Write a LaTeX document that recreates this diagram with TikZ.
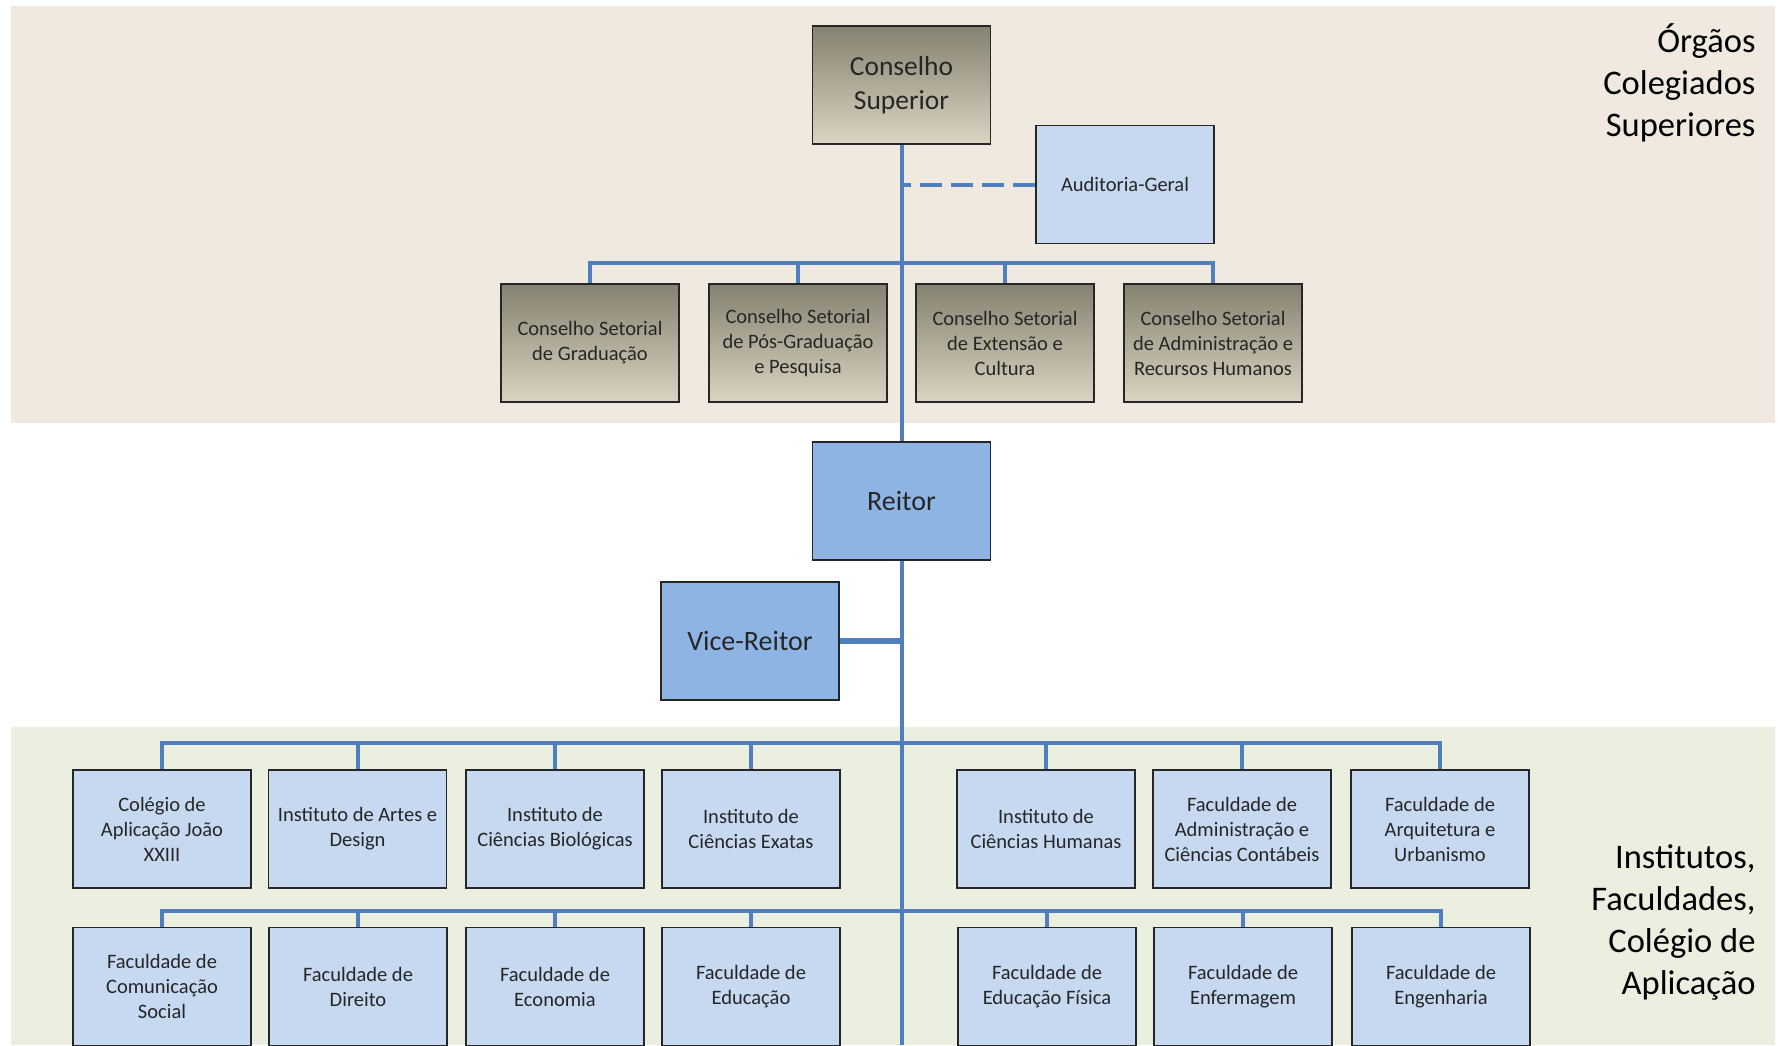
\documentclass[tikz,border=0pt]{standalone}
\usepackage{fontspec}
\setmainfont{Carlito}
\definecolor{bandtop}{HTML}{EFE9E0}
\definecolor{bandbot}{HTML}{EBEFDF}
\definecolor{linkblue}{HTML}{4F7FBE}
\definecolor{boxlight}{HTML}{C6D9F1}
\definecolor{boxmid}{HTML}{8EB4E3}
\definecolor{oliveA}{HTML}{858170}
\definecolor{oliveB}{HTML}{DAD5C2}
\begin{document}
\begin{tikzpicture}[x=1pt,y=-1pt,
    unit/.style={draw=black!85,line width=1.2pt,minimum width=178pt,minimum height=118pt,
      align=center,text=black!85,font=\fontsize{20.5}{25}\selectfont},
    light/.style={unit,fill=boxlight},
    chief/.style={unit,fill=boxmid,font=\fontsize{28}{34}\selectfont},
    council/.style={unit,top color=oliveA,bottom color=oliveB},
    link/.style={draw=linkblue,line width=4pt},
    side/.style={anchor=east,align=right,font=\fontsize{34.5}{42}\selectfont}]
  \useasboundingbox (0,0) rectangle (1778,1045);
  \fill[bandtop] (11,6) rectangle (1775,423);
  \fill[bandbot] (11,727) rectangle (1775,1045);
  \node[side] (orgaos) at (1759,83) {Órgãos\\Colegiados\\Superiores};
  \node[side] (inst) at (1759,922) {Institutos,\\Faculdades,\\Colégio de\\Aplicação};
  % junction points on the spine
  \coordinate (busA) at (901.5,263);
  \coordinate (busB) at (901.5,743);
  \coordinate (busC) at (901.5,911);
  \coordinate (foot) at (901.5,1045);
  \draw[link] (busA) -- (901.5,140);
  \draw[link] (busA) -- (foot);
  \node[unit,top color=oliveA,bottom color=oliveB,font=\fontsize{27.5}{34}\selectfont] (cs) at (901.5,85)
    {Conselho\\Superior};
  \node[light] (aud) at (1125,184.5) {Auditoria-Geral};
  \draw[link,dash pattern=on 22pt off 9pt] (aud.west) -- (aud.west -| cs.south);
  \node[council] (set1) at (590,343) {Conselho Setorial\\de Graduação};
  \node[council] (set2) at (798,343) {Conselho Setorial\\de Pós-Graduação\\e Pesquisa};
  \node[council] (set3) at (1005,343) {Conselho Setorial\\de Extensão e\\Cultura};
  \node[council] (set4) at (1213,343) {Conselho Setorial\\de Administração e\\Recursos Humanos};
  \foreach \n in {set1,set2,set3,set4}
    \draw[link] (\n.north) |- (busA);
  \node[chief] (reitor) at (901.5,501) {Reitor};
  \node[chief] (vice) at (750,641) {Vice-Reitor};
  \draw[link,line width=6pt] (vice.east) -- (vice.east -| reitor.south);
  % first row
  \node[light] (ra1) at (162,829) {Colégio de\\Aplicação João\\XXIII};
  \node[light] (ra2) at (357.5,829) {Instituto de Artes e\\Design};
  \node[light] (ra3) at (555,829) {Instituto de\\Ciências Biológicas};
  \node[light] (ra4) at (751,829) {Instituto de\\Ciências Exatas};
  \node[light] (ra5) at (1046,829) {Instituto de\\Ciências Humanas};
  \node[light] (ra6) at (1242,829) {Faculdade de\\Administração e\\Ciências Contábeis};
  \node[light] (ra7) at (1440,829) {Faculdade de\\Arquitetura e\\Urbanismo};
  % second row
  \node[light] (rb1) at (162,986.5) {Faculdade de\\Comunicação\\Social};
  \node[light] (rb2) at (358,986.5) {Faculdade de\\Direito};
  \node[light] (rb3) at (555,986.5) {Faculdade de\\Economia};
  \node[light] (rb4) at (751,986.5) {Faculdade de\\Educação};
  \node[light] (rb5) at (1047,986.5) {Faculdade de\\Educação Física};
  \node[light] (rb6) at (1243,986.5) {Faculdade de\\Enfermagem};
  \node[light] (rb7) at (1441,986.5) {Faculdade de\\Engenharia};
  \foreach \i in {1,...,7} {
    \draw[link] (ra\i.north) |- (busB);
    \draw[link] (rb\i.north) |- (busC);
  }
\end{tikzpicture}
\end{document}
